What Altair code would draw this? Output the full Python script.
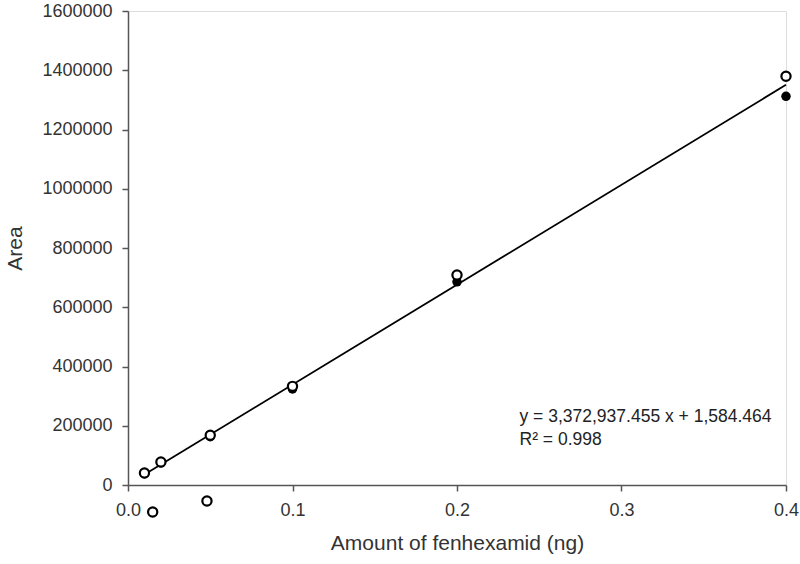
import altair as alt
import pandas as pd

# Open-circle series (replicate 1)
open_x = [0.01, 0.02, 0.05, 0.1, 0.2, 0.4, 0.015, 0.048]
open_y = [40500, 77700, 168000, 333000, 709000, 1380000, -91000, -54000]
# Filled-circle series (replicate 2)
fill_x = [0.01, 0.02, 0.05, 0.1, 0.2, 0.4]
fill_y = [38000, 75000, 163000, 324000, 686000, 1312000]
# Trendline end points
line_x = [0.01, 0.4]
line_y = [35314, 1350759]
eq_lines = ["y = 3,372,937.455 x + 1,584.464", "R\u00b2 = 0.998"]
eq_x = [0.238, 0.238]
eq_y = [230000, 152000]

df_open = pd.DataFrame({"x": open_x, "y": open_y})
df_fill = pd.DataFrame({"x": fill_x, "y": fill_y})
df_line = pd.DataFrame({"x": line_x, "y": line_y})
df_txt = pd.DataFrame({"x": eq_x, "y": eq_y, "t": eq_lines})

FONT = "Liberation Sans"
xs = alt.Scale(domain=[0, 0.4], nice=False, zero=False)
ys = alt.Scale(domain=[0, 1600000], nice=False)

xax = alt.Axis(values=[0, 0.1, 0.2, 0.3, 0.4], format=".1f", grid=False,
               title="Amount of fenhexamid (ng)", labelFont=FONT, titleFont=FONT,
               labelFontSize=18, titleFontSize=21, titleFontWeight="normal",
               labelColor="#333333", titleColor="#333333", labelFlush=False,
               domainColor="#555555", tickColor="#555555", tickSize=6,
               labelPadding=10, titlePadding=13, domainWidth=1.5, tickWidth=1.5)
yax = alt.Axis(values=list(range(0, 1600001, 200000)), format="d", grid=False,
               title="Area", labelFont=FONT, titleFont=FONT,
               labelFontSize=18, titleFontSize=21, titleFontWeight="normal",
               labelColor="#333333", titleColor="#333333", labelFlush=False,
               domainColor="#555555", tickColor="#555555", tickSize=6,
               labelPadding=10, titlePadding=16, domainWidth=1.5, tickWidth=1.5)

line = alt.Chart(df_line).mark_line(color="black", strokeWidth=1.8).encode(
    x=alt.X("x:Q", scale=xs, axis=xax),
    y=alt.Y("y:Q", scale=ys, axis=yax),
)
filled = alt.Chart(df_fill).mark_point(shape="circle", filled=True, color="black",
                                        size=90, opacity=1).encode(
    x=alt.X("x:Q", scale=xs), y=alt.Y("y:Q", scale=ys))
opened = alt.Chart(df_open).mark_point(shape="circle", filled=False, fill="white",
                                        fillOpacity=1, stroke="black",
                                        strokeWidth=2.2, size=85, opacity=1).encode(
    x=alt.X("x:Q", scale=xs), y=alt.Y("y:Q", scale=ys))
txt = alt.Chart(df_txt).mark_text(align="left", baseline="middle", font=FONT,
                                  fontSize=17.5, color="#222222").encode(
    x=alt.X("x:Q", scale=xs), y=alt.Y("y:Q", scale=ys), text="t:N")

chart = alt.layer(line, filled, opened, txt).properties(
    width=658, height=474,
    autosize=alt.AutoSizeParams(type="none"),
    padding={"left": 128, "top": 11, "right": 14, "bottom": 79},
).configure_view(stroke=None).configure(background="white")

chart.save("out.html", embed_options={"renderer": "svg", "actions": False})
